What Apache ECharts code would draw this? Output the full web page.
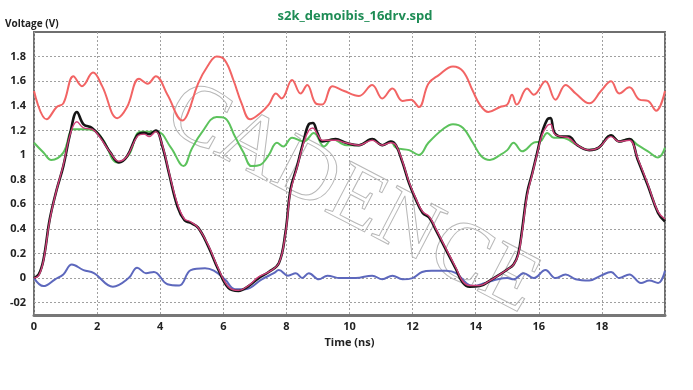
<!DOCTYPE html>
<html>
<head>
<meta charset="utf-8">
<script src="https://cdn.jsdelivr.net/npm/echarts@6/dist/echarts.min.js"></script>
<style>
html,body{margin:0;padding:0;background:#fff;}
#chart{width:693px;height:390px;}
</style>
</head>
<body>
<div id="chart"></div>
<script>
// ---- data (time in ns, voltage in V) ----
var titleText = 's2k_demoibis_16drv.spd';
var xTicks = [0, 2, 4, 6, 8, 10, 12, 14, 16, 18];
var yTicks = [-0.2, 0, 0.2, 0.4, 0.6, 0.8, 1, 1.2, 1.4, 1.6, 1.8];

var redTrace = [[0,1.52],[0.4,1.29],[0.72,1.39],[0.93,1.42],[1.25,1.64],[1.52,1.56],[1.87,1.67],[2.16,1.56],[2.64,1.30],[2.95,1.39],[3.33,1.62],[3.6,1.58],[3.86,1.64],[4.23,1.49],[4.71,1.28],[4.88,1.34],[5.2,1.58],[5.52,1.73],[5.79,1.80],[6.05,1.77],[6.32,1.61],[6.58,1.42],[6.85,1.29],[7.17,1.34],[7.44,1.41],[7.67,1.50],[7.85,1.46],[8.18,1.61],[8.45,1.50],[8.66,1.57],[8.93,1.42],[9.14,1.41],[9.46,1.56],[9.83,1.52],[10.3,1.48],[10.72,1.57],[11.04,1.46],[11.36,1.54],[11.68,1.44],[11.95,1.45],[12.2,1.39],[12.5,1.58],[12.83,1.65],[13.28,1.72],[13.6,1.68],[13.91,1.52],[14.13,1.41],[14.4,1.35],[14.77,1.39],[15.0,1.41],[15.15,1.49],[15.3,1.41],[15.63,1.54],[15.84,1.49],[16.21,1.60],[16.53,1.45],[16.85,1.57],[17.17,1.50],[17.6,1.42],[17.97,1.52],[18.29,1.60],[18.55,1.50],[18.87,1.55],[19.19,1.45],[19.46,1.44],[19.72,1.36],[20,1.52]];

var greenTrace = [[0,1.10],[0.3,1.02],[0.55,0.96],[0.93,1.02],[1.25,1.21],[1.57,1.21],[1.9,1.20],[2.2,1.12],[2.64,0.94],[3.0,1.00],[3.38,1.19],[3.9,1.19],[4.34,1.06],[4.74,0.91],[5.0,1.05],[5.31,1.18],[5.79,1.31],[6.05,1.30],[6.37,1.15],[6.64,1.02],[6.9,0.91],[7.17,0.92],[7.44,1.00],[7.7,1.10],[7.9,1.07],[8.18,1.14],[8.55,1.11],[8.87,1.18],[9.19,1.07],[9.46,1.13],[9.9,1.08],[10.3,1.08],[10.72,1.13],[11.04,1.08],[11.31,1.11],[11.47,1.06],[11.89,1.04],[12.2,1.00],[12.5,1.10],[12.96,1.21],[13.28,1.25],[13.6,1.22],[13.91,1.10],[14.18,0.99],[14.45,0.96],[14.77,1.00],[15.0,1.04],[15.2,1.10],[15.47,1.03],[15.84,1.10],[16.05,1.11],[16.27,1.18],[16.48,1.14],[16.74,1.14],[17.22,1.08],[17.6,1.04],[17.9,1.06],[18.29,1.16],[18.55,1.11],[18.87,1.13],[19.14,1.08],[19.46,1.03],[19.78,0.98],[20,1.06]];

var blueTrace = [[0,0],[0.3,-0.065],[0.67,-0.01],[0.93,0.03],[1.2,0.11],[1.57,0.065],[1.9,0.04],[2.5,-0.07],[3.0,0],[3.27,0.085],[3.55,0.04],[3.8,0.05],[4.23,-0.05],[4.6,-0.06],[4.97,0.065],[5.42,0.08],[5.7,0.06],[6.05,-0.01],[6.37,-0.09],[6.7,-0.09],[7.22,-0.01],[7.6,0.04],[7.76,0.065],[8.05,0.02],[8.3,0.04],[8.5,0],[8.71,0.04],[9.03,-0.01],[9.3,0.02],[9.7,0],[10.2,0],[10.72,0.02],[11.04,-0.01],[11.36,0.02],[11.68,-0.01],[12.0,0],[12.3,0.05],[12.6,0.06],[13.06,0.06],[13.38,0.04],[13.7,-0.04],[13.9,-0.065],[14.3,-0.04],[14.7,-0.01],[15.0,0],[15.2,-0.01],[15.52,0.04],[15.84,0],[16.21,0.065],[16.53,0],[16.85,0.03],[17.17,-0.01],[17.6,-0.02],[17.97,0.02],[18.29,0.05],[18.55,0],[18.87,0.03],[19.24,-0.04],[19.5,-0.02],[19.78,-0.04],[20,0.06]];

var blackTrace = [[0,0],[0.15,0.03],[0.3,0.15],[0.5,0.48],[0.72,0.72],[0.93,0.91],[1.15,1.18],[1.36,1.35],[1.57,1.25],[1.84,1.22],[2.1,1.15],[2.42,1.02],[2.69,0.94],[2.95,0.99],[3.27,1.16],[3.49,1.18],[3.65,1.17],[3.86,1.20],[4.07,1.07],[4.28,0.85],[4.55,0.58],[4.77,0.47],[4.95,0.45],[5.2,0.41],[5.52,0.26],[5.84,0.07],[6.16,-0.08],[6.48,-0.105],[6.8,-0.065],[7.12,0],[7.44,0.05],[7.76,0.12],[7.97,0.37],[8.13,0.72],[8.34,0.91],[8.55,1.12],[8.71,1.25],[8.84,1.26],[8.98,1.18],[9.14,1.11],[9.35,1.12],[9.56,1.13],[9.88,1.10],[10.3,1.08],[10.72,1.13],[11.04,1.08],[11.31,1.11],[11.47,1.08],[11.68,0.94],[11.89,0.77],[12.1,0.64],[12.32,0.53],[12.53,0.49],[12.74,0.39],[13.06,0.23],[13.38,0.07],[13.6,-0.04],[13.81,-0.07],[14.13,-0.065],[14.45,-0.02],[14.77,0.03],[15.0,0.07],[15.2,0.11],[15.35,0.20],[15.47,0.39],[15.63,0.69],[15.79,0.85],[15.95,1.02],[16.1,1.18],[16.27,1.29],[16.37,1.30],[16.5,1.18],[16.74,1.15],[16.95,1.15],[17.22,1.08],[17.6,1.04],[17.9,1.06],[18.29,1.16],[18.55,1.11],[18.87,1.13],[19.14,0.96],[19.46,0.75],[19.78,0.53],[20,0.46]];

var pinkTrace = [[0,0],[0.15,0.02],[0.3,0.14],[0.5,0.47],[0.72,0.72],[0.93,0.92],[1.15,1.17],[1.36,1.27],[1.57,1.22],[1.84,1.21],[2.1,1.14],[2.42,1.02],[2.69,0.95],[2.95,0.99],[3.27,1.15],[3.49,1.17],[3.65,1.15],[3.86,1.19],[4.07,1.08],[4.28,0.86],[4.55,0.60],[4.77,0.48],[4.95,0.46],[5.2,0.41],[5.52,0.27],[5.84,0.08],[6.16,-0.07],[6.48,-0.10],[6.8,-0.06],[7.12,0.01],[7.44,0.05],[7.76,0.12],[7.97,0.36],[8.13,0.70],[8.34,0.90],[8.55,1.10],[8.71,1.20],[8.84,1.22],[8.98,1.17],[9.14,1.12],[9.35,1.12],[9.56,1.12],[9.88,1.10],[10.3,1.08],[10.72,1.12],[11.04,1.08],[11.31,1.10],[11.47,1.08],[11.68,0.95],[11.89,0.78],[12.1,0.65],[12.32,0.54],[12.53,0.50],[12.74,0.40],[13.06,0.24],[13.38,0.08],[13.6,-0.03],[13.81,-0.06],[14.13,-0.06],[14.45,-0.02],[14.77,0.03],[15.0,0.07],[15.2,0.11],[15.35,0.19],[15.47,0.37],[15.63,0.67],[15.79,0.84],[15.95,1.01],[16.1,1.16],[16.27,1.24],[16.37,1.25],[16.5,1.17],[16.74,1.15],[16.95,1.14],[17.22,1.08],[17.6,1.04],[17.9,1.06],[18.29,1.15],[18.55,1.11],[18.87,1.12],[19.14,0.97],[19.46,0.76],[19.78,0.54],[20,0.48]];

var chart = echarts.init(document.getElementById('chart'), null, {renderer: 'canvas'});
var labelFont = {color: '#222', fontWeight: 'bold', fontSize: 11, fontFamily: 'Open Sans, Liberation Sans, sans-serif'};
var gridLine = {show: true, lineStyle: {color: '#a0a0a0', type: [2, 2], width: 1}};

function line(name, data, color, width, z) {
  return {
    name: name, type: 'line', data: data, showSymbol: false, smooth: 0.4,
    lineStyle: {color: color, width: width}, z: z, animation: false
  };
}

chart.setOption({
  animation: false,
  backgroundColor: '#ffffff',
  title: {
    text: titleText, left: 350, top: 5, textAlign: 'center',
    textStyle: {color: '#1e8c55', fontSize: 13, fontWeight: 'bold', fontFamily: 'Open Sans, Liberation Sans, sans-serif'}
  },
  graphic: [
    {type: 'text', left: 5, top: 19, style: {text: 'Voltage (V)', fill: '#222', font: 'bold 10px "Open Sans", "Liberation Sans", sans-serif'}},
    {type: 'text', x: 352, y: 200, rotation: -0.48, originX: 0, originY: 0, z: 1,
     style: {text: 'CADENCE', x: 0, y: 0, align: 'center', verticalAlign: 'middle',
             fill: 'rgba(0,0,0,0)', stroke: '#b8b8b8', lineWidth: 1,
             font: '86px "Liberation Serif", "DejaVu Serif", serif'}}
  ],
  grid: {left: 34, right: 28, top: 32, bottom: 75, show: true, borderColor: '#6f6f6f', borderWidth: 2, backgroundColor: 'rgba(0,0,0,0)'},
  xAxis: {
    type: 'value', min: 0, max: 20, interval: 2,
    name: 'Time (ns)', nameLocation: 'middle', nameGap: 22,
    nameTextStyle: {color: '#222', fontWeight: 'bold', fontSize: 11, fontFamily: 'Open Sans, Liberation Sans, sans-serif'},
    axisLine: {show: true, onZero: false, lineStyle: {color: '#777', width: 3}},
    axisTick: {show: false},
    axisLabel: Object.assign({showMaxLabel: false, margin: 6}, labelFont),
    splitLine: gridLine
  },
  yAxis: {
    type: 'value', min: -0.3, max: 2.0,
    axisLine: {show: false},
    axisTick: {show: false, customValues: yTicks},
    axisLabel: Object.assign({
      customValues: yTicks, margin: 8,
      formatter: function (v) { return Math.abs(v + 0.2) < 1e-9 ? '-02' : String(+v.toFixed(1)); }
    }, labelFont),
    splitLine: gridLine
  },
  series: [
    line('upper', redTrace, '#f26464', 2, 3),
    line('mid', greenTrace, '#5cc25c', 2, 3),
    line('low', blueTrace, '#5d68bd', 2, 3),
    line('main', blackTrace, '#151515', 2.6, 4),
    line('main2', pinkTrace, '#d0407a', 1.4, 5)
  ]
});
</script>
</body>
</html>
